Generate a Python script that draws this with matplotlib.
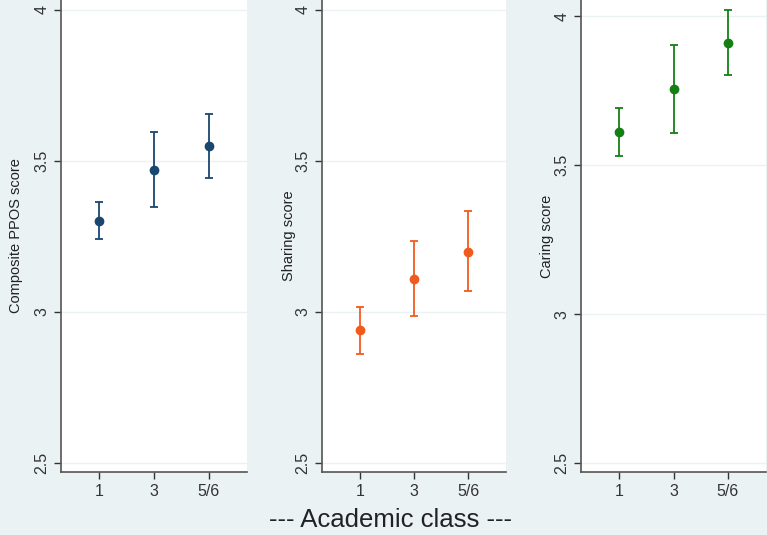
import matplotlib.pyplot as plt
import numpy as np

plt.rcParams['font.family'] = ['Liberation Sans', 'DejaVu Sans']

classes = ["1", "3", "5/6"]

composite_mean = [3.30, 3.47, 3.551]
composite_low = [3.24, 3.347, 3.445]
composite_high = [3.365, 3.596, 3.657]

sharing_mean = [2.939, 3.109, 3.20]
sharing_low = [2.862, 2.985, 3.069]
sharing_high = [3.018, 3.234, 3.334]

caring_mean = [3.61, 3.755, 3.910]
caring_low = [3.529, 3.608, 3.803]
caring_high = [3.691, 3.903, 4.019]

labels = ["Composite PPOS score", "Sharing score", "Caring score"]
colors = ["#1A476F", "#F25A1D", "#148014"]

bg = "#EAF2F3"
fig = plt.figure(figsize=(7.67, 5.35), dpi=100, facecolor=bg)

panels = [
    (composite_mean, composite_low, composite_high, [61, 247], (2.47, 4.033), -0.205),
    (sharing_mean, sharing_low, sharing_high, [322, 506], (2.47, 4.033), -0.141),
    (caring_mean, caring_low, caring_high, [581, 766], (2.47, 4.054), -0.146),
]

x = np.arange(1, len(classes) + 1)
for i, (mean, low, high, px, ylim, labx) in enumerate(panels):
    left = px[0] / 767
    width = (px[1] - px[0]) / 767
    ax = fig.add_axes([left, 1 - 472 / 535, width, 472 / 535])
    ax.set_facecolor("white")
    mean = np.array(mean)
    err = [mean - np.array(low), np.array(high) - mean]
    ax.errorbar(x, mean, yerr=err, fmt="o", color=colors[i], ms=6,
                elinewidth=1.3, capsize=3.2, capthick=1.3, zorder=3)
    ax.set_xlim(0.3, 3.7)
    ax.set_ylim(*ylim)
    ax.set_yticks([2.5, 3, 3.5, 4])
    ax.set_yticklabels(["2.5", "3", "3.5", "4"], rotation=90, va="center")
    ax.set_xticks(x)
    ax.set_xticklabels(classes)
    ax.tick_params(labelsize=11.5, colors="#333333", length=5, width=1)
    ax.grid(axis="y", color=bg, linewidth=1)
    ax.set_axisbelow(True)
    for s in ["top", "right"]:
        ax.spines[s].set_visible(False)
    for s in ["left", "bottom"]:
        ax.spines[s].set_color("#555555")
        ax.spines[s].set_linewidth(1.2)
    ax.set_ylabel(labels[i], fontsize=10.5, color="#222222")
    ax.yaxis.set_label_coords(labx, 0.5)

fig.text(391 / 767, 1 - 520 / 535, "--- Academic class ---", ha="center",
         va="center", fontsize=18.5, color="#222222")

fig.savefig("out.png", dpi=100, facecolor=bg)
